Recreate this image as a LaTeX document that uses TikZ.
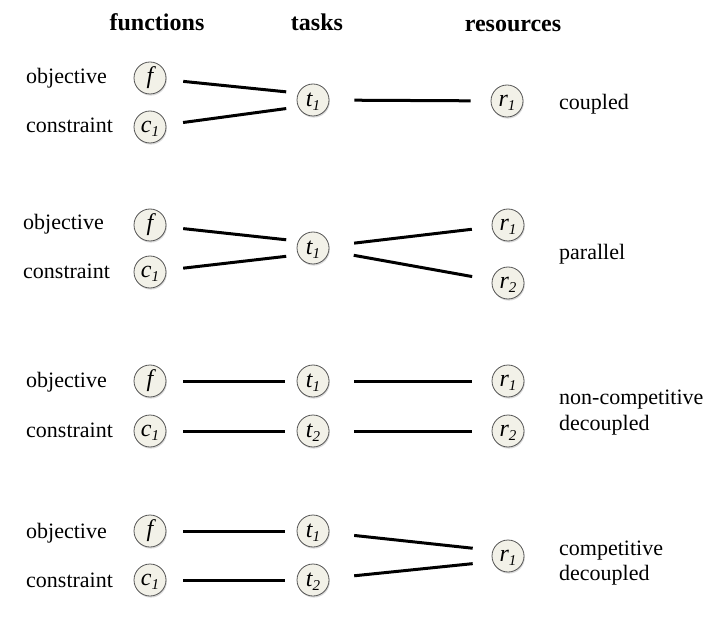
\documentclass[tikz,border=0pt]{standalone}
\usepackage{fontspec}
\setmainfont{Liberation Serif}
\usetikzlibrary{shadows}

\definecolor{nodefill}{RGB}{242,241,232}
\definecolor{nodeline}{RGB}{85,85,85}

\newcommand\nsub[1]{\raisebox{-4pt}[0pt][0pt]{\fontsize{15}{15}\selectfont #1}}

\tikzset{
    fn/.style={circle, draw=nodeline, line width=0.8pt, fill=nodefill,
        minimum size=32pt, inner sep=0pt,
        font=\fontsize{24}{26}\selectfont\itshape,
        drop shadow={opacity=0.3, shadow xshift=0.8pt, shadow yshift=-1.6pt}},
    lbl/.style={font=\fontsize{22}{26}\selectfont, inner sep=0pt, anchor=base west},
    head/.style={font=\fontsize{24}{28}\selectfont\bfseries, inner sep=0pt, anchor=base},
    link/.style={line width=3pt, shorten <=17pt, shorten >=12pt},
    rlink/.style={line width=3pt, shorten <=25pt, shorten >=20pt},
}

\begin{document}
\begin{tikzpicture}[x=1pt, y=-1pt]

    \useasboundingbox (0, 0) rectangle (720, 620);

    % Column headers
    \node[head] (hfun) at (157, 31) {functions};
    \node[head] (htask) at (317, 31) {tasks};
    \node[head] (hres) at (513, 32) {resources};

    % Coupled
    \node[lbl] (objA) at (26, 84) {objective};
    \node[lbl] (conA) at (26, 133) {constraint};
    \node[fn] (fA) at (150, 78) {f};
    \node[fn] (cA) at (150, 127) {c\nsub{1}};
    \node[fn] (tA) at (313, 100) {t\nsub{1}};
    \node[fn] (rA) at (507, 101) {r\nsub{1}};
    \node[lbl] (kindA) at (559, 110) {coupled};

    \draw[link] (fA) -- (tA.155);
    \draw[link] (cA) -- (tA.205);
    \draw[rlink] (tA) -- (rA);

    % Parallel
    \node[lbl] (objB) at (23, 230) {objective};
    \node[lbl] (conB) at (23, 279) {constraint};
    \node[fn] (fB) at (150, 225) {f};
    \node[fn] (cB) at (150, 272) {c\nsub{1}};
    \node[fn] (tB) at (313, 248) {t\nsub{1}};
    \node[fn] (rB1) at (508, 225) {r\nsub{1}};
    \node[fn] (rB2) at (508, 283) {r\nsub{2}};
    \node[lbl] (kindB) at (559, 260) {parallel};

    \draw[link] (fB) -- (tB.155);
    \draw[link] (cB) -- (tB.205);
    \draw[rlink] (tB) -- (rB1);
    \draw[rlink] (tB) -- (rB2);

    % Non-competitive decoupled
    \node[lbl] (objC) at (26, 387) {objective};
    \node[lbl] (conC) at (26, 437) {constraint};
    \node[fn] (fC) at (150, 381) {f};
    \node[fn] (cC) at (150, 431) {c\nsub{1}};
    \node[fn] (tC1) at (313, 381) {t\nsub{1}};
    \node[fn] (tC2) at (313, 431) {t\nsub{2}};
    \node[fn] (rC1) at (508, 381) {r\nsub{1}};
    \node[fn] (rC2) at (508, 431) {r\nsub{2}};
    \node[lbl] (kindC1) at (559, 404) {non-competitive};
    \node[lbl] (kindC2) at (559, 430) {decoupled};

    \draw[link] (fC) -- (tC1);
    \draw[link] (cC) -- (tC2);
    \draw[rlink] (tC1) -- (rC1);
    \draw[rlink] (tC2) -- (rC2);

    % Competitive decoupled
    \node[lbl] (objD) at (26, 538) {objective};
    \node[lbl] (conD) at (26, 587) {constraint};
    \node[fn] (fD) at (150, 531) {f};
    \node[fn] (cD) at (150, 580) {c\nsub{1}};
    \node[fn] (tD1) at (313, 531) {t\nsub{1}};
    \node[fn] (tD2) at (313, 580) {t\nsub{2}};
    \node[fn] (rD) at (508, 556) {r\nsub{1}};
    \node[lbl] (kindD1) at (559, 555) {competitive};
    \node[lbl] (kindD2) at (559, 580) {decoupled};

    \draw[link] (fD) -- (tD1);
    \draw[link] (cD) -- (tD2);
    \draw[rlink] (tD1) -- (rD.160);
    \draw[rlink] (tD2) -- (rD.200);

\end{tikzpicture}
\end{document}
